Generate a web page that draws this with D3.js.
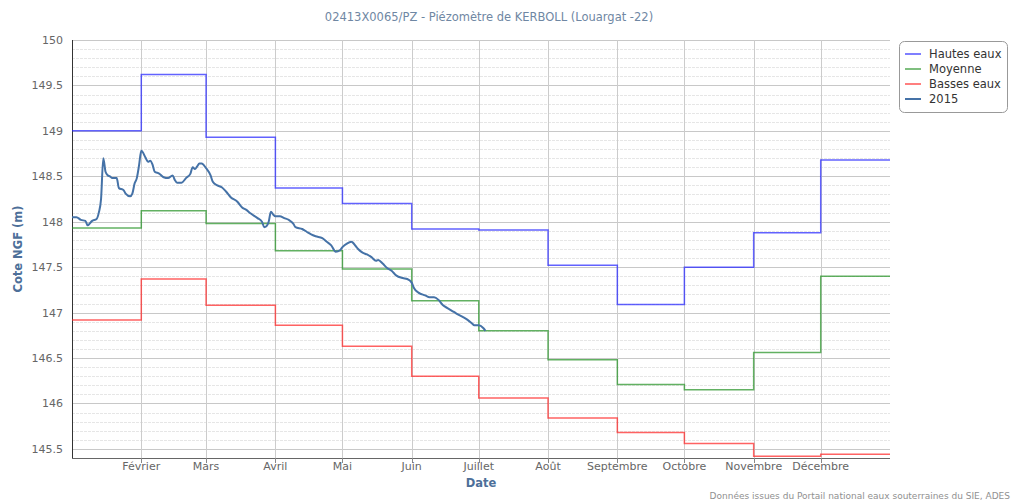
<!DOCTYPE html>
<html>
<head>
<meta charset="utf-8">
<script src="https://cdn.jsdelivr.net/npm/d3@7"></script>
<style>
  body { margin: 0; background: #fff; }
  svg { display: block; font-family: "DejaVu Sans", Verdana, sans-serif; }
</style>
</head>
<body>
<svg id="chart" width="1018" height="504"></svg>
<script>
// ---- Data ----
const monthLabels = ["", "Février", "Mars", "Avril", "Mai", "Juin", "Juillet", "Août", "Septembre", "Octobre", "Novembre", "Décembre"];
const hautesEaux = [149.00, 149.62, 148.93, 148.37, 148.20, 147.92, 147.91, 147.52, 147.09, 147.50, 147.88, 148.68];
const moyenne    = [147.93, 148.12, 147.98, 147.68, 147.48, 147.13, 146.80, 146.48, 146.21, 146.15, 146.56, 147.40];
const bassesEaux = [146.92, 147.37, 147.08, 146.86, 146.63, 146.30, 146.06, 145.84, 145.68, 145.56, 145.42, 145.44];
const yTicks = [145.5, 146, 146.5, 147, 147.5, 148, 148.5, 149, 149.5, 150];

const dates2015 = ["01-01","01-03","01-05","01-07","01-08","01-10","01-12","01-13","01-14","01-15","01-16","01-17","01-18","01-19","01-21","01-22","01-24","01-25","01-27","01-28","01-29","01-30","01-31",
"02-01","02-03","02-04","02-05","02-06","02-07","02-09","02-11","02-13","02-15","02-16","02-17","02-19","02-21","02-23","02-24","02-25","02-26","02-27","02-28",
"03-01","03-03","03-04","03-06","03-08","03-10","03-12","03-15","03-17","03-19","03-21","03-24","03-26","03-27","03-28","03-29","03-30","03-31",
"04-01","04-03","04-05","04-07","04-09","04-10","04-13","04-15","04-17","04-19","04-22","04-24","04-26","04-28","04-30",
"05-01","05-03","05-05","05-07","05-08","05-10","05-12","05-14","05-16","05-17","05-19","05-21","05-23","05-25","05-28","05-30",
"06-01","06-02","06-04","06-07","06-09","06-11","06-13","06-15","06-17","06-19","06-21","06-24","06-26","06-28","06-29",
"07-01","07-03","07-04"];
const values2015 = [148.05,148.05,148.02,148.01,147.96,148.01,148.03,148.10,148.25,148.70,148.55,148.51,148.50,148.48,148.48,148.37,148.35,148.31,148.28,148.31,148.42,148.48,148.62,
148.78,148.70,148.66,148.67,148.63,148.55,148.53,148.49,148.48,148.51,148.46,148.43,148.43,148.48,148.53,148.60,148.58,148.61,148.64,148.64,
148.59,148.51,148.44,148.40,148.38,148.33,148.27,148.22,148.16,148.13,148.09,148.04,148.00,147.94,147.95,148.00,148.11,148.08,
148.06,148.06,148.04,148.02,147.98,147.94,147.92,147.89,147.86,147.84,147.82,147.78,147.74,147.67,147.69,
147.72,147.76,147.78,147.73,147.70,147.66,147.64,147.61,147.57,147.58,147.54,147.49,147.46,147.41,147.38,147.37,
147.33,147.27,147.22,147.19,147.17,147.17,147.14,147.08,147.05,147.02,146.99,146.95,146.92,146.88,146.86,
146.86,146.83,146.80];

const legendItems = [
  { name: "Hautes eaux", color: "#7f7fff" },
  { name: "Moyenne",     color: "#7fbf7f" },
  { name: "Basses eaux", color: "#ff7f7f" },
  { name: "2015",        color: "#4572A7" }
];

// ---- Layout ----
const svg = d3.select("#chart");
const pLeft = 72, pRight = 890, pTop = 40, pBottom = 458;
const baseYear = 2016;
const parse = s => new Date(baseYear, +s.slice(0,2) - 1, +s.slice(3,5));
const x = d3.scaleTime().domain([new Date(baseYear,0,1), new Date(baseYear+1,0,1)]).range([pLeft, pRight]);
const y = d3.scaleLinear().domain([145.4, 150]).range([pBottom, pTop]);
const monthStarts = d3.range(12).map(m => new Date(baseYear, m, 1));

// Minor grid (every 0.1)
const minor = d3.range(145.5, 150.001, 0.1).map(v => +v.toFixed(1)).filter(v => !yTicks.includes(v));
svg.append("g").selectAll("line").data(minor).join("line")
  .attr("x1", pLeft).attr("x2", pRight)
  .attr("y1", d => Math.round(y(d)) + 0.5).attr("y2", d => Math.round(y(d)) + 0.5)
  .attr("stroke", "#e6e6e6").attr("stroke-dasharray", "3,1");

// Major grid
svg.append("g").selectAll("line").data(yTicks).join("line")
  .attr("x1", pLeft).attr("x2", pRight)
  .attr("y1", d => Math.round(y(d)) + 0.5).attr("y2", d => Math.round(y(d)) + 0.5)
  .attr("stroke", "#c8c8c8");

// Vertical grid
svg.append("g").selectAll("line").data(monthStarts.slice(1)).join("line")
  .attr("x1", d => Math.round(x(d)) + 0.5).attr("x2", d => Math.round(x(d)) + 0.5)
  .attr("y1", pTop).attr("y2", pBottom)
  .attr("stroke", "#cccccc");

// Y labels
svg.append("g").selectAll("text").data(yTicks).join("text")
  .attr("x", 63).attr("y", d => y(d) + 4)
  .attr("text-anchor", "end").attr("font-size", 11).attr("fill", "#666")
  .text(d => d3.format("")(d));

// X axis
const xAxis = svg.append("g").attr("transform", `translate(0,${pBottom})`);
xAxis.append("line").attr("x1", pLeft).attr("x2", pRight).attr("y1", 0.5).attr("y2", 0.5).attr("stroke", "#666");
xAxis.selectAll("line.tick").data(monthStarts.slice(1)).join("line").attr("class", "tick")
  .attr("x1", d => Math.round(x(d)) + 0.5).attr("x2", d => Math.round(x(d)) + 0.5)
  .attr("y1", 0).attr("y2", 5).attr("stroke", "#888");
xAxis.selectAll("text").data(monthStarts).join("text")
  .attr("x", d => x(d)).attr("y", 12)
  .attr("text-anchor", "middle").attr("font-size", 11).attr("fill", "#666")
  .text((d, i) => monthLabels[i]);

// Y axis line
svg.append("line").attr("x1", pLeft + 0.5).attr("x2", pLeft + 0.5).attr("y1", pTop).attr("y2", pBottom)
  .attr("stroke", "#333");

// Step series
function stepPoints(vals) {
  const pts = vals.map((v, i) => [monthStarts[i], v]);
  pts.push([new Date(baseYear + 1, 0, 1), vals[vals.length - 1]]);
  return pts;
}
const stepLine = d3.line().x(d => x(d[0])).y(d => y(d[1])).curve(d3.curveStepAfter);
[[hautesEaux, "#2020ff"], [moyenne, "#209020"], [bassesEaux, "#ff2020"]].forEach(([vals, col]) => {
  svg.append("path").datum(stepPoints(vals))
    .attr("d", stepLine).attr("fill", "none").attr("stroke", col)
    .attr("stroke-width", 1.5).attr("stroke-opacity", 0.7);
});

// 2015 series
const data2015 = dates2015.map((d, i) => [parse(d), values2015[i]]);
svg.append("path").datum(data2015)
  .attr("d", d3.line().x(d => x(d[0])).y(d => y(d[1])).curve(d3.curveMonotoneX))
  .attr("fill", "none").attr("stroke", "#4572A7").attr("stroke-width", 2)
  .attr("stroke-linejoin", "round");

// Title
svg.append("text").attr("x", 489).attr("y", 21).attr("text-anchor", "middle")
  .attr("font-size", 11.5).attr("fill", "#6f87a3")
  .text("02413X0065/PZ - Piézomètre de KERBOLL (Louargat -22)");

// Axis titles
svg.append("text").attr("x", 481).attr("y", 487).attr("text-anchor", "middle")
  .attr("font-size", 11.5).attr("font-weight", "bold").attr("fill", "#4d6f99").text("Date");
svg.append("text").attr("transform", `translate(22,${(pTop + pBottom) / 2}) rotate(-90)`)
  .attr("text-anchor", "middle").attr("font-size", 11.5).attr("font-weight", "bold").attr("fill", "#4d6f99")
  .text("Cote NGF (m)");

// Footer
svg.append("text").attr("x", 1010).attr("y", 499).attr("text-anchor", "end")
  .attr("font-size", 9).attr("fill", "#909090")
  .text("Données issues du Portail national eaux souterraines du SIE, ADES");

// Legend
const lg = svg.append("g").attr("transform", "translate(899,41)");
lg.append("rect").attr("x", 0.5).attr("y", 0.5).attr("width", 108).attr("height", 71).attr("rx", 5)
  .attr("fill", "#fff").attr("stroke", "#999");
legendItems.forEach((it, i) => {
  const cy = 13 + i * 15;
  lg.append("line").attr("x1", 6).attr("x2", 22).attr("y1", cy).attr("y2", cy)
    .attr("stroke", it.color).attr("stroke-width", 2);
  lg.append("text").attr("x", 30).attr("y", cy + 4).attr("font-size", 11.5).attr("fill", "#333").text(it.name);
});
</script>
</body>
</html>
